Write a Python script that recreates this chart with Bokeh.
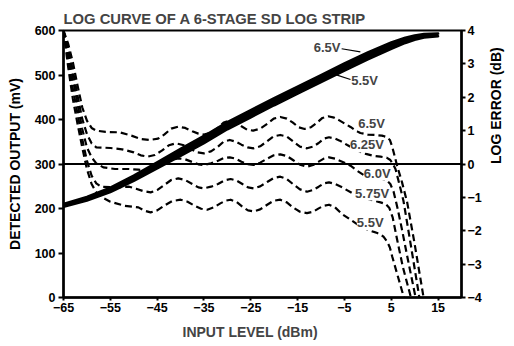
import math
from bokeh.plotting import figure
from bokeh.models import Range1d, LinearAxis, FixedTicker, Label, Span, Title
from bokeh.embed import file_html
from bokeh.resources import INLINE

# ---------------- data ----------------
x_ticks = [-65, -55, -45, -35, -25, -15, -5, 5, 15]
mv_ticks = [0, 100, 200, 300, 400, 500, 600]
db_ticks = [-4, -3, -2, -1, 0, 1, 2, 3, 4]

# log output (mV), thick band: 6.5V upper edge, 5.5V lower edge
x_log = [-65, -60, -55, -50, -45, -40, -35, -30, -25, -20, -15, -10, -5, 0, 5, 8, 10, 12, 15]
log_65 = [210, 226, 247, 274, 304, 334, 363, 394, 421, 448, 474, 500, 526, 551, 573, 584, 589, 592, 593]
log_55 = [204, 218, 237, 262, 290, 318, 347, 378, 405, 432, 458, 484, 510, 535, 559, 572, 579, 584, 587]

# log error (dB) curves
x_e65 = [-65, -64, -63, -62, -61, -60, -59, -58, -56, -53, -50.5, -48.5, -46.5, -44.8, -43.5, -42, -40.5, -39, -37.5,
         -36.2, -35, -33.5, -32, -30.8, -29.5, -28.2, -27, -25.8, -24.5, -23, -21.5, -20.1, -18.7, -17.3, -16, -14.8,
         -13.5, -12.2, -11, -9.7, -8.5, -7.2, -6, -4.8, -3.7, -2.6, -1.6, 0, 1.5, 3, 4, 4.7, 5.2, 5.7, 6.2, 7.3, 8.4,
         10, 11.9]
e65 = [4.0, 3.6, 3.05, 2.35, 1.7, 1.3, 1.08, 1.0, 0.96, 0.95, 0.85, 0.75, 0.72, 0.76, 0.88, 1.06, 1.12, 1.08, 0.98,
       0.91, 0.88, 0.94, 1.08, 1.24, 1.3, 1.25, 1.13, 1.03, 1.0, 1.06, 1.2, 1.36, 1.41, 1.36, 1.24, 1.1,
       1.05, 1.1, 1.22, 1.38, 1.43, 1.39, 1.3, 1.2, 1.11, 1.0, 0.93, 0.88, 0.87, 0.85, 0.81, 0.72, 0.52, 0.25, -0.03,
       -0.55, -1.15, -2.4, -4.0]

x_e625 = [-65, -64, -63, -62, -61, -60, -59, -58, -55, -52.5, -50, -48.5, -47, -45.5, -44, -42.5, -41, -39.5, -38,
          -36.5, -35, -33.5, -32, -30.8, -29.5, -28.2, -27, -25.7, -24.4, -23, -21.5, -20.1, -18.7, -17.3, -16, -14.5,
          -13, -11.7, -10.5, -9.4, -8.3, -7, -6, -4.4, -2.7, -0.9, 1, 2.7, 4, 4.8, 5.4, 5.9, 6.6, 7.6, 9.2, 11.0]
e625 = [4.0, 3.45, 2.8, 2.05, 1.35, 0.9, 0.62, 0.5, 0.48, 0.44, 0.35, 0.26, 0.22, 0.27, 0.4, 0.56, 0.62, 0.57, 0.46,
        0.35, 0.32, 0.38, 0.52, 0.67, 0.72, 0.67, 0.58, 0.5, 0.47, 0.53, 0.68, 0.83, 0.87, 0.82, 0.68, 0.52,
        0.47, 0.52, 0.63, 0.76, 0.8, 0.76, 0.7, 0.57, 0.44, 0.32, 0.25, 0.22, 0.19, 0.12, -0.01, -0.15, -0.53, -1.1,
        -2.45, -4.0]

x_e60 = [-65, -64, -63, -62, -61, -60, -59, -58, -56.5, -54, -51, -49, -47, -45.5, -44, -42.2, -40.5, -39, -37.5,
         -36.2, -35, -33.5, -32, -30.8, -29.5, -28.2, -27, -25.7, -24.4, -23, -21.5, -20.1, -18.7, -17.3, -16, -14.5,
         -13, -11.7, -10.5, -9.4, -8.3, -7, -6, -4.8, -3.7, -2.3, -0.9, 1, 2.7, 4, 4.8, 5.5, 6.3, 7.2, 8.6, 10.2]
e60 = [4.0, 3.3, 2.55, 1.8, 1.05, 0.5, 0.2, 0.02, -0.1, -0.15, -0.15, -0.17, -0.2, -0.14, -0.02, 0.12, 0.17, 0.14, 0.06,
       -0.01, -0.03, 0.02, 0.1, 0.18, 0.2, 0.16, 0.07, 0.0, -0.03, 0.04, 0.16, 0.26, 0.29, 0.24, 0.12, -0.02,
       -0.08, -0.03, 0.07, 0.16, 0.2, 0.16, 0.1, 0.03, -0.05, -0.2, -0.33, -0.4, -0.43, -0.48, -0.6, -0.83, -1.3, -1.9,
       -2.9, -4.0]

x_e575 = [-65, -64, -63, -62, -61, -60, -59, -58, -57, -54, -51, -49.5, -48, -46.4, -45, -43.5, -42, -40.5, -39,
          -37.5, -36.2, -35, -33.5, -32, -30.6, -29.3, -28, -26.8, -25.6, -24.4, -23, -21.5, -20.1, -18.7, -17.3, -16,
          -14.5, -13, -11.7, -10.5, -9.4, -8.3, -7, -5.5, -3, 0, 2.7, 3.8, 4.6, 5.3, 6.3, 7.5, 9.2]
e575 = [4.0, 3.1, 2.25, 1.5, 0.75, 0.1, -0.35, -0.58, -0.68, -0.7, -0.68, -0.74, -0.81, -0.85, -0.78, -0.63, -0.48, -0.43, -0.48,
        -0.6, -0.7, -0.73, -0.68, -0.6, -0.49, -0.45, -0.5, -0.6, -0.7, -0.73, -0.67, -0.54, -0.42, -0.38, -0.45, -0.6,
        -0.76, -0.83, -0.78, -0.68, -0.58, -0.55, -0.6, -0.7, -0.9, -1.05, -1.15, -1.2, -1.32, -1.6, -2.3, -3.1, -4.0]

x_e55 = [-65, -64, -63, -62, -61, -60, -59, -58, -56.5, -55, -52, -49, -47.7, -46.4, -45, -43.5, -41.8, -40, -38.5,
         -37, -35.6, -34.3, -32.9, -31.5, -30.4, -29.3, -28, -26.8, -25.6, -24.4, -23, -21.5, -20.1, -18.7, -17.3, -16,
         -14.5, -13, -11.7, -10.5, -9.4, -8.3, -7, -5.5, -3.7, -1.6, 0, 2, 3.3, 4.1, 4.7, 5.2, 6.6, 7.7]
e55 = [4.0, 2.9, 1.95, 1.2, 0.5, -0.15, -0.6, -0.85, -1.02, -1.13, -1.25, -1.3, -1.4, -1.45, -1.39, -1.25, -1.11, -1.07, -1.13,
       -1.25, -1.34, -1.37, -1.3, -1.18, -1.1, -1.07, -1.14, -1.28, -1.39, -1.42, -1.36, -1.22, -1.1, -1.07, -1.15, -1.3,
       -1.43, -1.47, -1.43, -1.33, -1.25, -1.22, -1.3, -1.5, -1.67, -1.87, -1.97, -2.07, -2.17, -2.32, -2.5, -2.77, -3.46, -4.0]

FONT = "Liberation Sans"

p = figure(width=514, height=346, output_backend="svg", toolbar_location=None,
           x_range=Range1d(-65, 20), y_range=Range1d(0, 600),
           min_border_left=63, min_border_right=53, min_border_top=30, min_border_bottom=48)
p.extra_y_ranges = {"err": Range1d(-4, 4)}
p.grid.visible = False
p.background_fill_color = "white"
p.border_fill_color = "white"
p.outline_line_color = "black"
p.outline_line_width = 2

p.title.text = "LOG CURVE OF A 6-STAGE SD LOG STRIP"
p.title.text_font = FONT
p.title.text_font_size = "14.8px"
p.title.text_font_style = "bold"
p.title.align = "left"
p.title.standoff = 8
p.title.offset = 0

def style_axis(ax, ticks, tick_out, standoff):
    ax.ticker = FixedTicker(ticks=ticks)
    ax.axis_line_width = 2.5
    ax.axis_line_color = "black"
    ax.major_tick_line_width = 2
    ax.major_tick_in = 0
    ax.major_tick_out = tick_out
    ax.minor_tick_line_color = None
    ax.major_label_standoff = standoff
    ax.major_label_text_font = FONT
    ax.major_label_text_font_size = "12.5px"
    ax.major_label_text_font_style = "bold"
    ax.major_label_text_color = "black"
    ax.axis_label_text_font = FONT
    ax.axis_label_text_font_size = "14px"
    ax.axis_label_text_font_style = "bold"
    ax.axis_label_text_color = "black"

style_axis(p.xaxis[0], x_ticks, 3, 2)
style_axis(p.yaxis[0], mv_ticks, 5, 3)
p.yaxis[0].axis_label = "DETECTED OUTPUT (mV)"
p.yaxis[0].axis_label_standoff = 9
rax = LinearAxis(y_range_name="err")
style_axis(rax, db_ticks, 4, 2)
rax.axis_label = "LOG ERROR (dB)"
rax.axis_label_standoff = 11
try:
    rax.axis_label_orientation = math.pi / 2
except Exception:
    pass
p.add_layout(rax, "right")

xt = Title(text="INPUT LEVEL (dBm)", align="left", offset=119, standoff=14,
           text_font=FONT, text_font_size="14px", text_font_style="bold")
p.add_layout(xt, "below")

# zero-dB reference line
p.add_layout(Span(location=300, dimension="width", line_color="black", line_width=2))

# log curve band
p.varea(x=x_log, y1=log_55, y2=log_65, fill_color="black")
p.line(x_log, log_65, line_color="black", line_width=2.5, line_cap="round")
p.line(x_log, log_55, line_color="black", line_width=2.5, line_cap="round")

# error curves
for xs, ys in [(x_e65, e65), (x_e625, e625), (x_e60, e60), (x_e575, e575), (x_e55, e55)]:
    p.line(xs, ys, y_range_name="err", line_color="black", line_width=2.2, line_dash="7 4",
           line_join="round")

def lab(x, y, t, rng="default", bg=None, size="13px"):
    kw = dict(x=x, y=y, text=t, text_font=FONT, text_font_size=size, text_font_style="bold",
              text_align="center", text_baseline="middle", y_range_name=rng)
    if bg:
        kw["background_fill_color"] = bg
    p.add_layout(Label(**kw))

# labels on log band
lab(-8.7, 562, "6.5V")
lab(-0.7, 488, "5.5V")
p.segment(x0=[-5.6, -6.9], y0=[559, 501], x1=[-1.6, -3.7], y1=[552, 490], line_color="black", line_width=1.2)

# labels on error curves
lab(0.8, 1.22, "6.5V", "err", "white")
lab(-0.2, 0.57, "6.25V", "err", "white")
lab(2.0, -0.27, "6.0V", "err", "white")
lab(0.9, -0.87, "5.75V", "err", "white")
lab(0.5, -1.76, "5.5V", "err", "white")

open("out.html", "w").write(file_html(p, INLINE))
